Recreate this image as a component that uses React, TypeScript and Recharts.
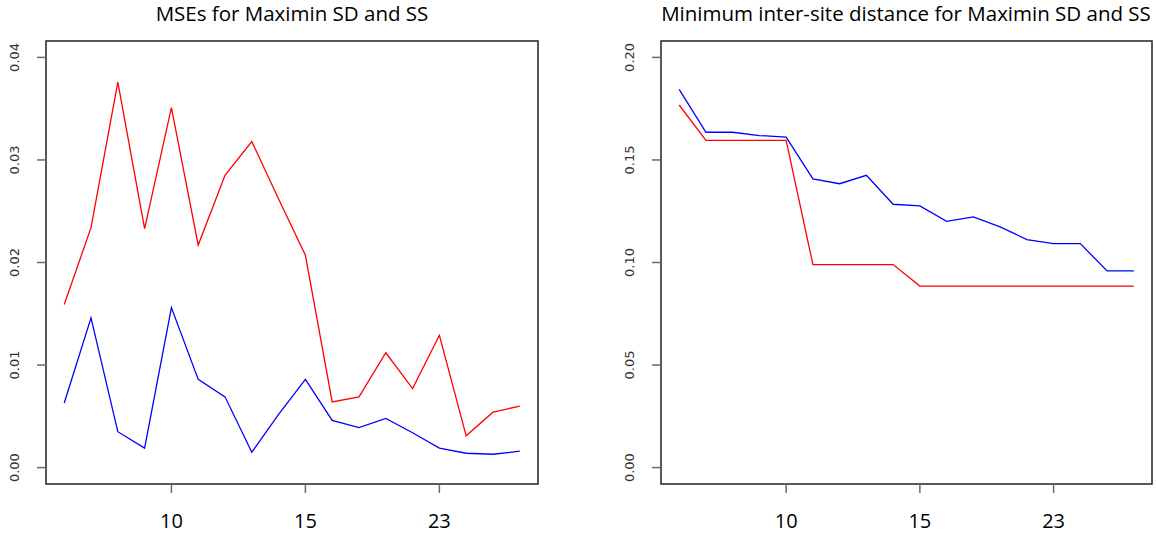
import React from "react";
import { LineChart, Line, XAxis, YAxis, ReferenceArea } from "recharts";

// x positions (index of design) and their labels (number of sites)
const positions = [1, 2, 3, 4, 5, 6, 7, 8, 9, 10, 11, 12, 13, 14, 15, 16, 17, 18];
const siteLabels = ["6", "7", "8", "9", "10", "11", "12", "13", "14", "15", "17", "19", "20", "21", "23", "25", "27", "30"];
const xTickPositions = [5, 10, 15];

// MSE panel
const mseRed = [0.0159, 0.0234, 0.0376, 0.0233, 0.0351, 0.0217, 0.0285, 0.0318, 0.0262, 0.0207, 0.0064, 0.0069, 0.0112, 0.0077, 0.0129, 0.0031, 0.0054, 0.006];
const mseBlue = [0.0063, 0.0146, 0.0035, 0.0019, 0.0156, 0.0086, 0.0069, 0.0015, 0.0052, 0.0086, 0.0046, 0.0039, 0.0048, 0.0034, 0.0019, 0.0014, 0.0013, 0.0016];
const mseTicks = [0, 0.01, 0.02, 0.03, 0.04];

// Minimum inter-site distance panel
const distBlue = [0.1844, 0.1635, 0.1635, 0.1619, 0.1611, 0.1408, 0.1384, 0.1425, 0.1284, 0.1276, 0.1201, 0.1222, 0.1174, 0.1112, 0.1092, 0.1092, 0.0959, 0.0959];
const distRed = [0.1768, 0.1595, 0.1595, 0.1595, 0.1595, 0.099, 0.099, 0.099, 0.099, 0.0885, 0.0885, 0.0885, 0.0885, 0.0885, 0.0885, 0.0885, 0.0885, 0.0885];
const distTicks = [0, 0.05, 0.1, 0.15, 0.2];

const mseData = positions.map((p, i) => ({ x: p, red: mseRed[i], blue: mseBlue[i] }));
const distData = positions.map((p, i) => ({ x: p, red: distRed[i], blue: distBlue[i] }));

const X_DOMAIN: [number, number] = [0.32, 18.68];

const YTick = (props: any) => {
  const { x, y, payload } = props;
  const tx = x - 16;
  return (
    <text
      x={0}
      y={0}
      transform={`translate(${tx}, ${y}) rotate(-90)`}
      textAnchor="middle"
      fontFamily="DejaVu Sans"
      fontSize={13}
      fill="#333"
    >
      {Number(payload.value).toFixed(2)}
    </text>
  );
};

const XTick = (props: any) => {
  const { x, y, payload } = props;
  return (
    <text x={x} y={y + 33} textAnchor="middle" fontFamily="Open Sans" fontSize={20} fill="#000">
      {siteLabels[payload.value - 1]}
    </text>
  );
};

const Panel = ({ data, domain, ticks, width, marginRight }: any) => (
  <LineChart width={width} height={535} data={data} margin={{ top: 41, right: marginRight, bottom: 0, left: 0 }}>
    <XAxis
      dataKey="x"
      type="number"
      domain={X_DOMAIN}
      ticks={xTickPositions}
      allowDataOverflow
      height={51}
      tickSize={9}
      tickLine={{ stroke: "#6a6a6a", strokeWidth: 1.5 }}
      axisLine={false}
      tick={<XTick />}
      interval={0}
    />
    <YAxis
      type="number"
      domain={domain}
      ticks={ticks}
      allowDataOverflow
      width={46}
      tickSize={9}
      tickLine={{ stroke: "#6a6a6a", strokeWidth: 1.5 }}
      axisLine={false}
      tick={<YTick />}
      interval={0}
    />
    <ReferenceArea
      x1={X_DOMAIN[0]}
      x2={X_DOMAIN[1]}
      y1={domain[0]}
      y2={domain[1]}
      fill="none"
      fillOpacity={0}
      stroke="#222"
      strokeWidth={1.5}
      strokeOpacity={1}
      ifOverflow="visible"
    />
    <Line type="linear" dataKey="red" stroke="#ff0000" strokeWidth={1.3} dot={false} isAnimationActive={false} />
    <Line type="linear" dataKey="blue" stroke="#0000ff" strokeWidth={1.3} dot={false} isAnimationActive={false} />
  </LineChart>
);

export default function App() {
  return (
    <div style={{ position: "absolute", left: 0, top: 0, width: 1156, height: 535, background: "#fff" }}>
      <div style={{ position: "absolute", left: 0, top: 0 }}>
        <Panel data={mseData} domain={[-0.0016, 0.0416]} ticks={mseTicks} width={580} marginRight={42} />
      </div>
      <div style={{ position: "absolute", left: 615, top: 0 }}>
        <Panel data={distData} domain={[-0.008, 0.208]} ticks={distTicks} width={541} marginRight={4} />
      </div>
      <svg width={1156} height={535} style={{ position: "absolute", left: 0, top: 0, pointerEvents: "none" }}>
        <text x={292} y={21} textAnchor="middle" fontFamily="Open Sans" fontSize={20.5} fill="#000">
          MSEs for Maximin SD and SS
        </text>
        <text x={906} y={21} textAnchor="middle" fontFamily="Open Sans" fontSize={20.5} fill="#000">
          Minimum inter-site distance for Maximin SD and SS
        </text>
      </svg>
    </div>
  );
}
